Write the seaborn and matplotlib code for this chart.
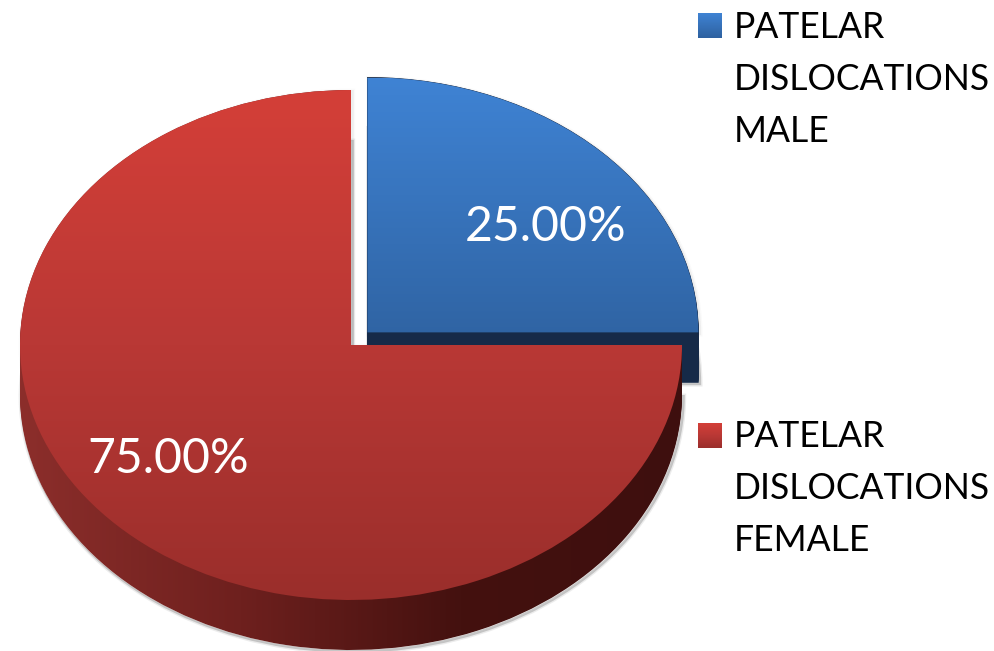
import numpy as np
import matplotlib
matplotlib.use('Agg')
import matplotlib.pyplot as plt
import matplotlib.patheffects as pe
import seaborn as sns

labels = ['PATELAR\nDISLOCATIONS\nMALE', 'PATELAR\nDISLOCATIONS\nFEMALE']
values = [25.0, 75.0]

W, H = 995, 651
# pie geometry in pixels of the picture (red slice centre and radii)
CX, CY, RX, RY = 351, 345, 331, 255
DEPTH = 50

sns.set_theme(style='white')
plt.rcParams['font.family'] = ['Lato', 'DejaVu Sans']

blue_top = sns.blend_palette(['#3f83d4', '#2e619f'], as_cmap=True)
red_top = sns.blend_palette(['#d43f38', '#b93835', '#9a2e2b'], as_cmap=True)
red_side = sns.blend_palette(['#8c2e2b', '#6e201e', '#44110f', '#3e0f0e'], as_cmap=True)
blue_side = '#162a48'
shadow = '#666666'

fig = plt.figure(figsize=(W / 100, H / 100), dpi=100)
ax = fig.add_axes([0, 0, 1, 1])
fig.patch.set_facecolor('white')

xlim = (-CX / RX, (W - CX) / RX)
ylim = (-(H - CY) / RY, CY / RY)
vert = np.linspace(0, 1, 256).reshape(-1, 1)
horiz = np.linspace(0, 1, 256).reshape(1, -1)


def draw_pie(center=(0, 0), z=1):
    wedges, _ = ax.pie(values, startangle=0, explode=[0.07, 0], center=center,
                       colors=['none', 'none'], wedgeprops={'zorder': z, 'linewidth': 0})
    return wedges


# soft shadow, mostly below and right of the body
for dy, a in [(0, 0.25), (DEPTH / RY, 1)]:
    for w in draw_pie((0, -dy), 1):
        w.set_facecolor('white')
        w.set_path_effects([
            pe.Stroke(linewidth=4, foreground=shadow, alpha=0.12 * a, offset=(1, -1)),
            pe.Stroke(linewidth=2, foreground=shadow, alpha=0.3 * a, offset=(1, -1)),
            pe.Normal(),
        ])

# body of the blue slice
for d in range(0, DEPTH + 1, 2):
    draw_pie((0, -d / RY), 2)[0].set(facecolor=blue_side, edgecolor=blue_side, linewidth=0.5)

# top of the blue slice
blue = draw_pie((0, 0), 4)[0]
im = ax.imshow(vert, cmap=blue_top, aspect='auto', zorder=4,
               extent=[-1, 1.2, -16 / RY, 267 / RY])
im.set_clip_path(blue)

# body of the red slice
for d in range(0, DEPTH + 1, 2):
    w = draw_pie((0, -d / RY), 5)[1]
    im = ax.imshow(horiz, cmap=red_side, aspect='auto', zorder=5,
                   extent=[-1, 1, -1.3, 1.3])
    im.set_clip_path(w)

# top of the red slice
red = draw_pie((0, 0), 6)[1]
im = ax.imshow(vert, cmap=red_top, aspect='auto', zorder=6, extent=[-1, 1, -1, 1])
im.set_clip_path(red)

ax.set_aspect('auto')
ax.set_xlim(xlim)
ax.set_ylim(ylim)
ax.axis('off')

# percent labels
fig.text(546 / W, 1 - 227 / H, f'{values[0]:.2f}%', color='white', fontsize=34.7,
         ha='center', va='center', zorder=10)
fig.text(168 / W, 1 - 459 / H, f'{values[1]:.2f}%', color='white', fontsize=34.7,
         ha='center', va='center', zorder=10)

# legend swatches and labels
for cmap, top, lab, y_text in [(blue_top, 13, labels[0], 11), (red_top, 423, labels[1], 420)]:
    sw = fig.add_axes([698 / W, 1 - (top + 25) / H, 24 / W, 25 / H])
    sw.imshow(vert, cmap=cmap, aspect='auto')
    sw.axis('off')
    fig.text(734 / W, 1 - y_text / H, lab, color='black', fontsize=25.6, ha='left', va='top',
             linespacing=1.7)

fig.savefig('out.png', dpi=100, facecolor='white')
